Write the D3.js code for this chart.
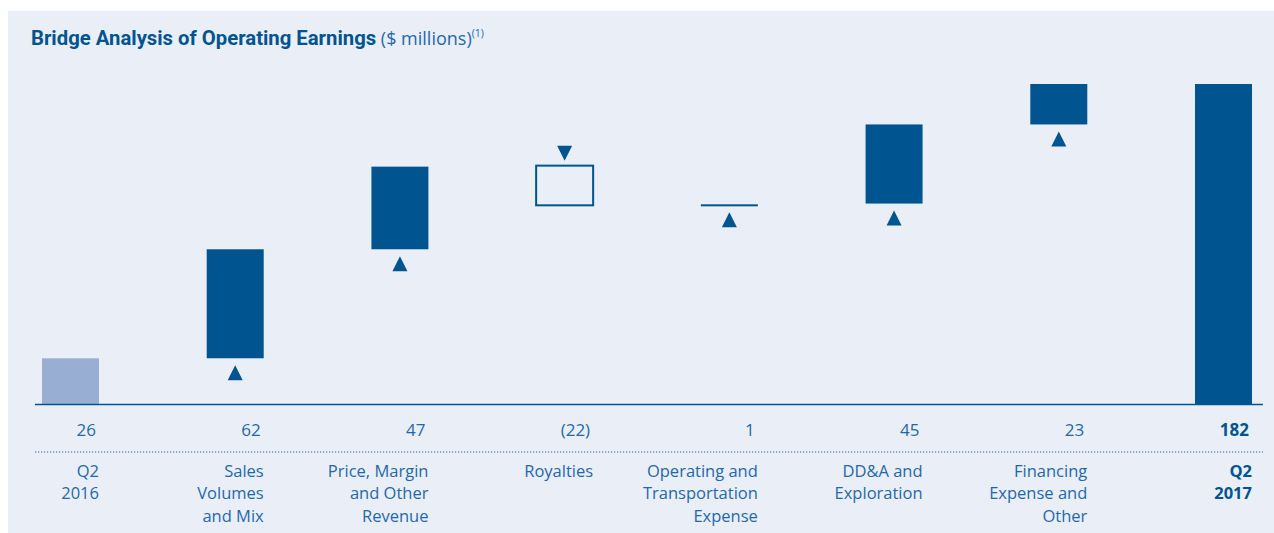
<!DOCTYPE html>
<html>
<head>
<meta charset="utf-8">
<script src="https://cdn.jsdelivr.net/npm/d3@7"></script>
<style>
  html, body { margin: 0; padding: 0; background: #ffffff; }
  svg { display: block; }
  text { font-family: "Open Sans", "Noto Sans", sans-serif; }
</style>
</head>
<body>
<svg id="chart" width="1274" height="533"></svg>
<script>
// ---- Data ----
const categories = ["Q2 2016", "Sales Volumes and Mix", "Price, Margin and Other Revenue", "Royalties",
  "Operating and Transportation Expense", "DD&A and Exploration", "Financing Expense and Other", "Q2 2017"];
const categoryLines = [["Q2", "2016"], ["Sales", "Volumes", "and Mix"], ["Price, Margin", "and Other", "Revenue"],
  ["Royalties"], ["Operating and", "Transportation", "Expense"], ["DD&A and", "Exploration"],
  ["Financing", "Expense and", "Other"], ["Q2", "2017"]];
const values = [26, 62, 47, -22, 1, 45, 23, 182];
const kinds = ["start", "delta", "delta", "delta", "delta", "delta", "delta", "total"];
const valueLabels = ["26", "62", "47", "(22)", "1", "45", "23", "182"];

// ---- Layout ----
const W = 1274, H = 533;
const darkBlue = "#00548f";
const lightBlue = "#99aed3";
const textBlue = "#1f68ab";
const bg = "#eaeff7";

const svg = d3.select("#chart");
svg.append("rect").attr("x", 8).attr("y", 11).attr("width", W - 8).attr("height", H - 11).attr("fill", bg);

// title
const title = svg.append("text").attr("x", 31).attr("y", 45).attr("fill", darkBlue);
title.append("tspan").attr("font-weight", "bold").attr("font-size", 20.3)
  .style("font-family", "Roboto, 'Open Sans', sans-serif").text("Bridge Analysis of Operating Earnings");
title.append("tspan").attr("font-size", 18).attr("fill", textBlue).text(" ($ millions)");
title.append("tspan").attr("font-size", 10.5).attr("fill", textBlue).attr("dy", -8).text("(1)");

// compute waterfall segments
let running = 0;
const segs = values.map((v, i) => {
  let y0, y1;
  if (kinds[i] === "start") { y0 = 0; y1 = v; running = v; }
  else if (kinds[i] === "total") { y0 = 0; y1 = v; running = v; }
  else { y0 = running; y1 = running + v; running = y1; }
  return { cat: categories[i], v, y0, y1, kind: kinds[i], i };
});

const x = d3.scaleBand().domain(categories).range([42, 1252]).paddingInner(0.654).paddingOuter(0);
const y = d3.scaleLinear().domain([0, 182]).range([404, 84]);

const g = svg.append("g");

segs.forEach(s => {
  const bx = x(s.cat), bw = x.bandwidth();
  const top = y(Math.max(s.y0, s.y1)), bot = y(Math.min(s.y0, s.y1));
  const cx = bx + bw / 2;
  if (s.kind === "start") {
    g.append("rect").attr("x", bx).attr("y", top).attr("width", bw).attr("height", bot - top).attr("fill", lightBlue);
  } else if (s.kind === "total") {
    g.append("rect").attr("x", bx).attr("y", top).attr("width", bw).attr("height", bot - top).attr("fill", darkBlue);
  } else if (s.v < 0) {
    g.append("rect").attr("x", bx).attr("y", top - 1).attr("width", bw).attr("height", bot - top + 1)
      .attr("fill", "none").attr("stroke", darkBlue).attr("stroke-width", 2);
    // down triangle above
    const ty = top - 6;
    g.append("path").attr("d", `M${cx - 7.5},${ty - 15} L${cx + 7.5},${ty - 15} L${cx},${ty} Z`).attr("fill", darkBlue);
  } else {
    if (bot - top < 3) {
      g.append("rect").attr("x", bx).attr("y", bot - 1).attr("width", bw).attr("height", 2).attr("fill", darkBlue);
    } else {
      g.append("rect").attr("x", bx).attr("y", top).attr("width", bw).attr("height", bot - top).attr("fill", darkBlue);
    }
    const ty = bot + 7;
    g.append("path").attr("d", `M${cx},${ty} L${cx + 7.5},${ty + 15} L${cx - 7.5},${ty + 15} Z`).attr("fill", darkBlue);
  }
});

// baseline
svg.append("line").attr("x1", 35).attr("x2", 1263).attr("y1", 404.5).attr("y2", 404.5)
  .attr("stroke", darkBlue).attr("stroke-width", 1.5);

// dotted separator
svg.append("line").attr("x1", 35).attr("x2", 1263).attr("y1", 452).attr("y2", 452)
  .attr("stroke", textBlue).attr("stroke-width", 1.2).attr("stroke-dasharray", "1.2,1.8");

// value labels
svg.append("g").selectAll("text").data(segs).join("text")
  .attr("x", d => x(d.cat) + x.bandwidth() - 3)
  .attr("y", 436)
  .attr("text-anchor", "end")
  .attr("font-size", 17)
  .attr("font-weight", d => d.kind === "total" ? "bold" : "normal")
  .attr("fill", d => d.kind === "total" ? darkBlue : textBlue)
  .text((d, i) => valueLabels[i]);

// category labels
const cl = svg.append("g").selectAll("text").data(segs).join("text")
  .attr("x", d => x(d.cat) + x.bandwidth())
  .attr("y", 477)
  .attr("text-anchor", "end")
  .attr("font-size", 16.5)
  .attr("font-weight", d => d.kind === "total" ? "bold" : "normal")
  .attr("fill", d => d.kind === "total" ? darkBlue : textBlue);
cl.each(function (d) {
  d3.select(this).selectAll("tspan").data(categoryLines[d.i]).join("tspan")
    .attr("x", x(d.cat) + x.bandwidth())
    .attr("dy", (t, j) => j === 0 ? 0 : 22.3)
    .text(t => t);
});
</script>
</body>
</html>
